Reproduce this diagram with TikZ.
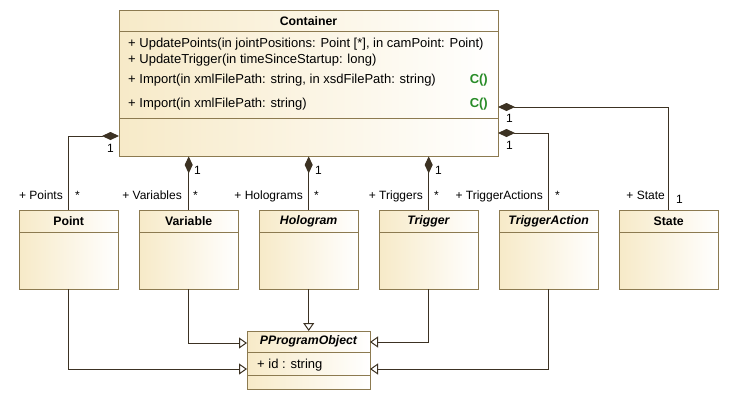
\documentclass[tikz,border=0pt]{standalone}
\usepackage{fontspec}
\setmainfont{Liberation Sans}
\usetikzlibrary{arrows.meta,calc}
\definecolor{boxfill}{RGB}{247,234,200}
\definecolor{boxline}{RGB}{140,122,80}
\definecolor{wire}{RGB}{60,50,35}
\definecolor{ctor}{RGB}{40,140,40}
\begin{document}
\begin{tikzpicture}[x=1pt,y=-1pt,
  font=\fontsize{12}{14}\selectfont,
  cls/.style={draw=boxline,left color=boxfill,right color=white,inner sep=0pt,
    anchor=north west,minimum width=99pt,minimum height=79pt},
  title/.style={font=\fontsize{12.3}{14}\selectfont\bfseries},
  comp/.style={draw=wire,line width=1pt,-{Diamond[length=17pt,width=8pt,fill=wire]}},
  gen/.style={draw=wire,line width=1pt,-{Triangle[open,length=8pt,width=11pt,fill=white]}},
  op/.style={inner sep=0pt,anchor=base west,font=\fontsize{13}{15}\selectfont},
  lbl/.style={inner sep=0pt,anchor=base east},
  mult/.style={inner sep=0pt,anchor=base west}]
\useasboundingbox (0,0) rectangle (729,400);
% container
\node[cls,minimum width=379pt,minimum height=146pt] (cont) at (119,10) {};
\node[title] (contt) at (308.5,21) {Container};
\draw[boxline] (119,31) -- (498,31);
\draw[boxline] (119,118) -- (498,118);
\node[op] (op1) at (128,47.5) {+ UpdatePoints(in jointPositions: Point [*], in camPoint: Point)};
\node[op] (op2) at (128,63.5) {+ UpdateTrigger(in timeSinceStartup: long)};
\node[op] (op3) at (128,83.5) {+ Import(in xmlFilePath: string, in xsdFilePath: string)};
\node[op] (op4) at (128,107.5) {+ Import(in xmlFilePath: string)};
\node[lbl,text=ctor,font=\fontsize{13}{15}\selectfont\bfseries] (c3) at (488,83.5) {C()};
\node[lbl,text=ctor,font=\fontsize{13}{15}\selectfont\bfseries] (c4) at (488,107.5) {C()};
% classes
\foreach \n/\x/\t in {point/19/Point, variable/139/Variable,
    hologram/259/\textit{Hologram}, trigger/379/\textit{Trigger},
    triggeraction/499/\textit{TriggerAction}, state/619/State} {
  \node[cls] (\n) at (\x,210) {};
  \node[title] (\n t) at ($(\n.north)+(0,11)$) {\t};
  \draw[boxline] (\x,232) -- ++(99,0);
}
\node[cls,minimum width=123pt,minimum height=58pt] (ppo) at (247,331) {};
\node[title,font=\fontsize{12.3}{14}\selectfont\bfseries\itshape] (ppot) at (308.5,341.5) {PProgramObject};
\draw[boxline] (247,352) -- (370,352);
\draw[boxline] (247,375) -- (370,375);
\node[op] (ppoid) at (257,368.5) {+ id : string};
% compositions
\coordinate (pointend) at (119,136);
\coordinate (taend) at (498,133);
\coordinate (stend) at (498,107);
\draw[comp] (point.north) |- (pointend);
\draw[comp] (variable.north) -- (variable.north |- cont.south);
\draw[comp] (hologram.north) -- (hologram.north |- cont.south);
\draw[comp] (trigger.north) -- (trigger.north |- cont.south);
\draw[comp] (triggeraction.north) |- (taend);
\draw[comp] (state.north) |- (stend);
% generalizations
\coordinate (gpoint) at (247,369);
\coordinate (gvar) at (247,343);
\coordinate (gtrig) at (370,342);
\coordinate (gta) at (370,369);
\draw[gen] (point.south) |- (gpoint);
\draw[gen] (variable.south) |- (gvar);
\draw[gen] (hologram.south) -- (hologram.south |- ppo.north);
\draw[gen] (trigger.south) |- (gtrig);
\draw[gen] (triggeraction.south) |- (gta);
% roles and multiplicities
\node[lbl] (lpoints) at (63,199) {+ Points};
\node[mult] (mpoints) at (75,199) {*};
\node[mult] (mpoint1) at (107,152) {1};
\node[lbl] (lvars) at (182,199) {+ Variables};
\node[mult] (mvars) at (193,199) {*};
\node[mult] (mvar1) at (194,174) {1};
\node[lbl] (lholos) at (303,199) {+ Holograms};
\node[mult] (mholos) at (314,199) {*};
\node[mult] (mholo1) at (315,174) {1};
\node[lbl] (ltrigs) at (423,199) {+ Triggers};
\node[mult] (mtrigs) at (434,199) {*};
\node[mult] (mtrig1) at (435,174) {1};
\node[lbl] (ltas) at (543,199) {+ TriggerActions};
\node[mult] (mtas) at (555,199) {*};
\node[mult] (mta1) at (506,149) {1};
\node[mult] (mst1) at (506,122) {1};
\node[lbl] (lstate) at (665,199) {+ State};
\node[mult] (mstate) at (676,203) {1};
\end{tikzpicture}
\end{document}
